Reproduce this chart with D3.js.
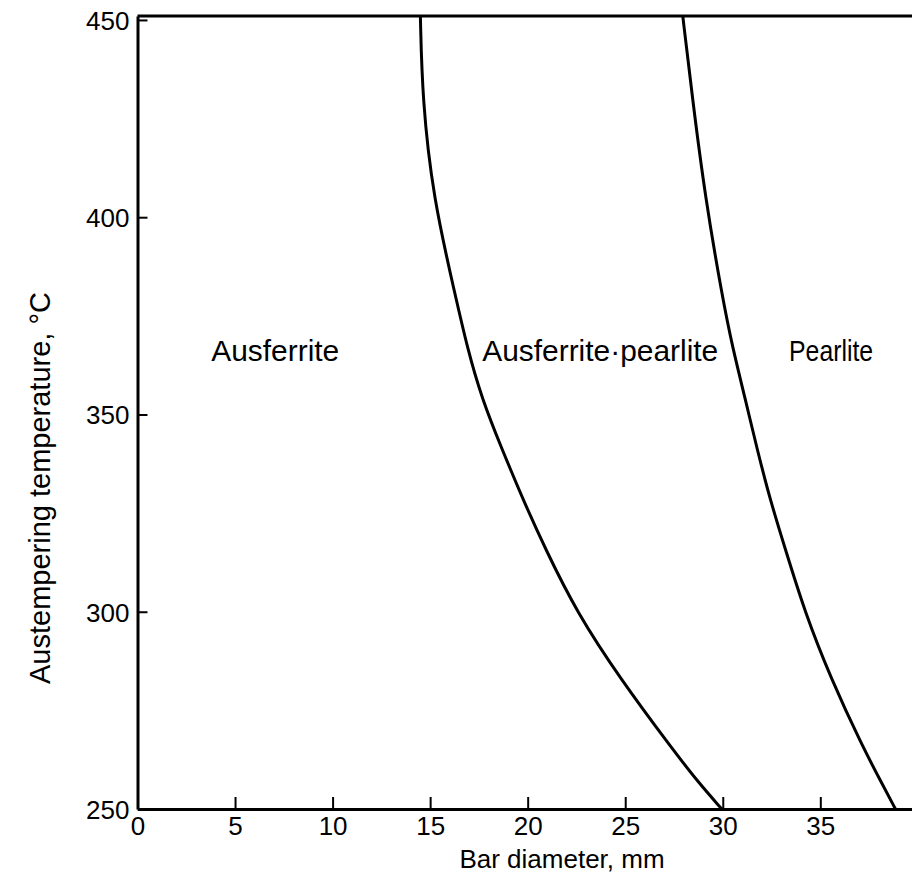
<!DOCTYPE html>
<meta charset="utf-8">
<style>
	body { margin: 0; background: #fff; }
	svg text { font-family: "Liberation Sans", Arial, Helvetica, sans-serif; fill: #000; }
</style>
<body>
<script src="https://d3js.org/d3.v7.min.js"></script>
<script>

	// temperatures (°C) at which the boundaries were read
	var temps = [451, 430, 405, 380, 367, 354, 341, 328, 316, 300, 283, 266, 257, 250];
	// bar diameter (mm) of the ausferrite / ausferrite-pearlite boundary
	var boundaryLow = [14.5, 14.6, 15.15, 16.3, 16.9, 17.65, 18.7, 19.8, 20.9, 22.5, 24.75, 27.3, 28.7, 29.95];
	// bar diameter (mm) of the ausferrite-pearlite / pearlite boundary
	var boundaryHigh = [27.95, 28.45, 29.1, 29.97, 30.5, 31.15, 31.77, 32.45, 33.2, 34.2, 35.55, 37.15, 38.1, 38.85];

	var xTicks = [0, 5, 10, 15, 20, 25, 30, 35];
	var yTicks = [250, 300, 350, 400, 450];
	var regions = [
		{name: "Ausferrite", d: 3.78, t: 363.5, w: 128},
		{name: "Ausferrite\u00b7pearlite", d: 17.67, t: 363.5, w: 236},
		{name: "Pearlite", d: 33.4, t: 363.5, w: 84}
	];

	var width = 912, height = 886;
	var svg = d3.select("body").append("svg")
		.attr("width", width)
		.attr("height", height);

	var x = d3.scaleLinear().domain([0, 39.7]).range([137.5, 912]);
	var y = d3.scaleLinear().domain([250, 451]).range([809, 16]);

	// x axis, ticks pointing up into the plot
	var gx = svg.append("g")
		.attr("transform", "translate(0," + y(250) + ")")
		.call(d3.axisBottom(x).tickValues(xTicks).tickSizeInner(-12).tickSizeOuter(0));
	gx.select(".domain").attr("stroke-width", 3);
	gx.selectAll(".tick line").attr("stroke-width", 2);
	gx.selectAll(".tick text").style("font-size", "26px").attr("y", 8).attr("dy", "0.71em");

	// y axis, ticks pointing right into the plot
	var gy = svg.append("g")
		.attr("transform", "translate(" + x(0) + ",0)")
		.call(d3.axisLeft(y).tickValues(yTicks).tickSizeInner(-10).tickSizeOuter(0));
	gy.select(".domain").attr("stroke-width", 3);
	gy.selectAll(".tick line").attr("stroke-width", 2);
	gy.selectAll(".tick text").style("font-size", "26px").attr("x", -8).attr("dy", "0.36em");

	// top frame line
	svg.append("line")
		.attr("x1", x(0)).attr("x2", width)
		.attr("y1", y(451)).attr("y2", y(451))
		.attr("stroke", "#000").attr("stroke-width", 3);

	var line = d3.line()
		.curve(d3.curveBasis)
		.x(function(d) { return x(d[0]); })
		.y(function(d) { return y(d[1]); });

	[boundaryLow, boundaryHigh].forEach(function(series) {
		svg.append("path")
			.datum(series.map(function(v, i) { return [v, temps[i]]; }))
			.attr("fill", "none")
			.attr("stroke", "#000")
			.attr("stroke-width", 3)
			.attr("d", line);
	});

	svg.selectAll(".region")
		.data(regions)
		.enter().append("text")
		.attr("class", "region")
		.attr("x", function(d) { return x(d.d); })
		.attr("y", function(d) { return y(d.t); })
		.attr("textLength", function(d) { return d.w; })
		.attr("lengthAdjust", "spacingAndGlyphs")
		.style("font-size", "29px")
		.text(function(d) { return d.name; });

	svg.append("text")
		.attr("x", 562)
		.attr("y", 868)
		.attr("text-anchor", "middle")
		.style("font-size", "26px")
		.text("Bar diameter, mm");

	svg.append("text")
		.attr("transform", "translate(50," + 488 + ") rotate(-90)")
		.attr("text-anchor", "middle")
		.style("font-size", "29px")
		.text("Austempering temperature, \u00b0C");

</script>
